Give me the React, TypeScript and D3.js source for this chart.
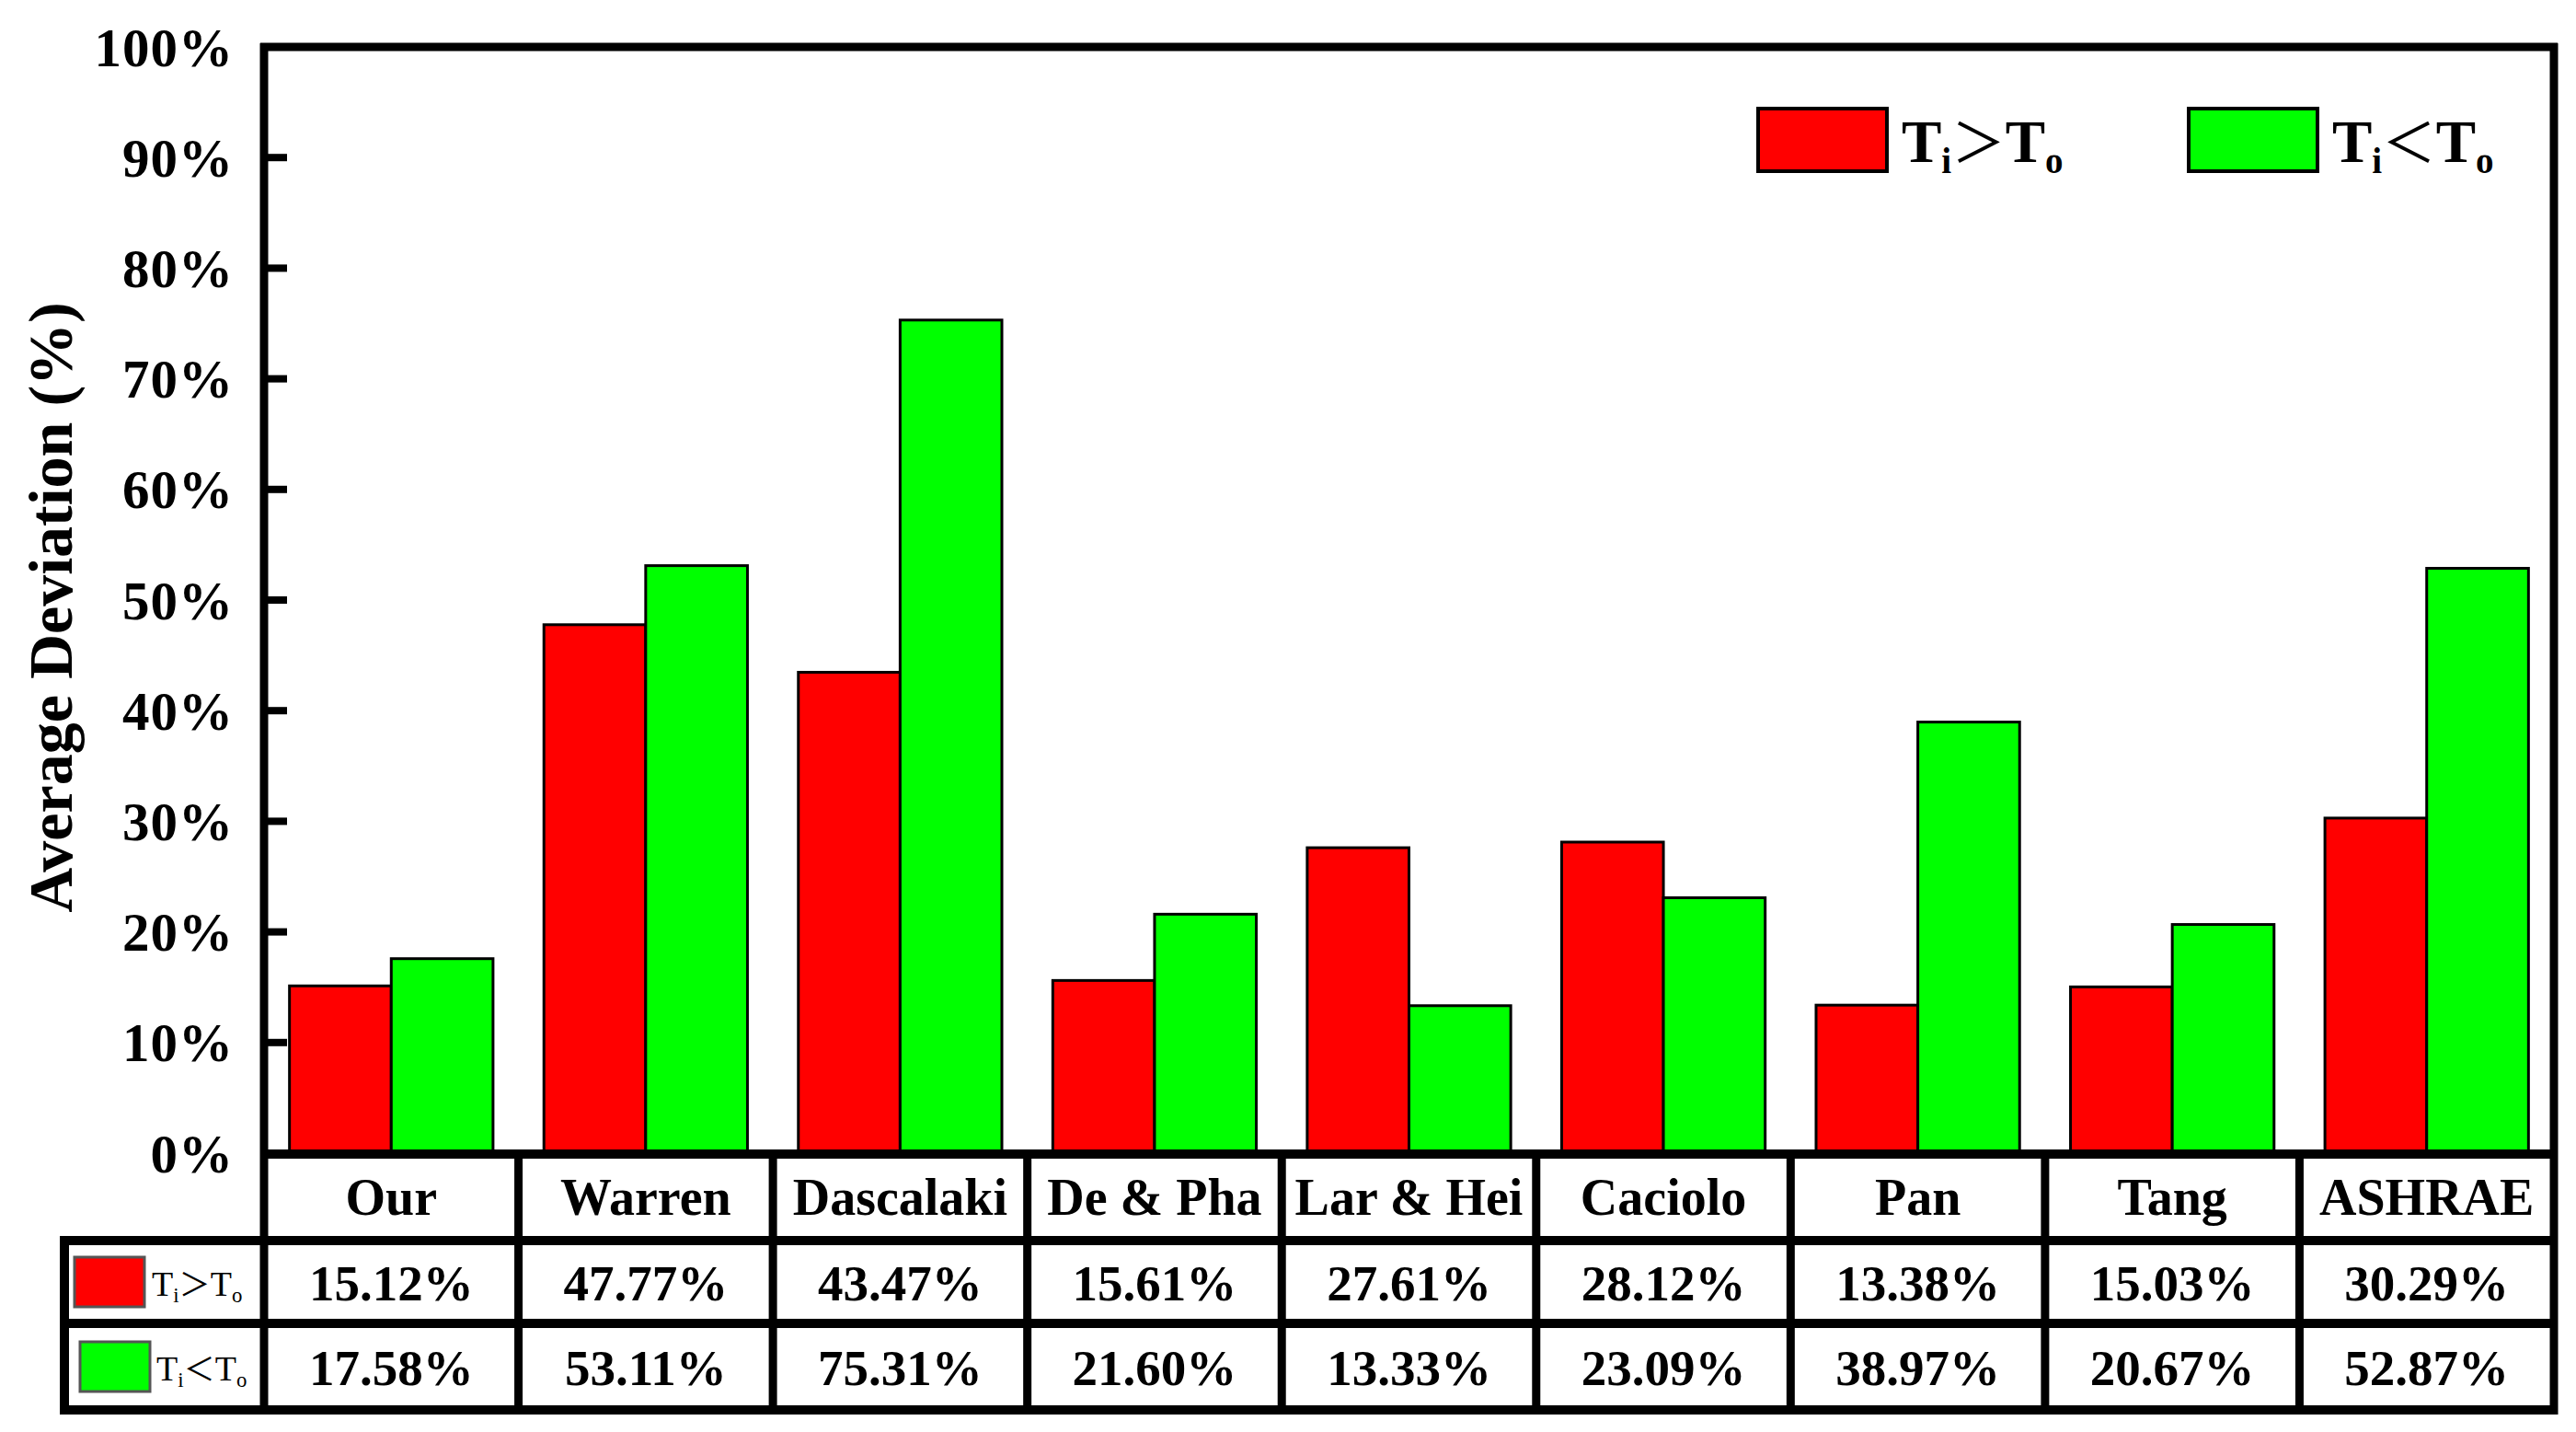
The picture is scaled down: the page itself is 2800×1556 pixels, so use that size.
import React from "react";
import * as d3 from "d3";

const categories = ["Our", "Warren", "Dascalaki", "De & Pha", "Lar & Hei", "Caciolo", "Pan", "Tang", "ASHRAE"];
const hotValues = [15.12, 47.77, 43.47, 15.61, 27.61, 28.12, 13.38, 15.03, 30.29];
const coldValues = [17.58, 53.11, 75.31, 21.6, 13.33, 23.09, 38.97, 20.67, 52.87];
const yTicks = [0, 10, 20, 30, 40, 50, 60, 70, 80, 90, 100];
const seriesKeys = ["hot", "cold"];
const seriesColors = ["#ff0000", "#00ff00"];
const seriesSymbols = ["＞", "＜"];

const W = 2800;
const H = 1556;
const plotLeft = 287;
const plotRight = 2776;
const plotTop = 51;
const plotBottom = 1253;
const tableLeft = 70;
const rowLines = [1348, 1438, 1532];
const FONT = "'Liberation Serif', 'Times New Roman', serif";

function LegendLabel({ x, y, size, sym, bold }: { x: number; y: number; size: number; sym: string; bold: boolean }) {
  return (
    <text x={x} y={y} fontFamily={FONT} fontSize={size} fontWeight={bold ? "bold" : "normal"} fill="#000">
      <tspan>T</tspan>
      <tspan fontSize={size * 0.6} dy={size * 0.18}>i</tspan>
      <tspan fontFamily="'Noto Sans CJK SC', sans-serif" fontWeight="normal" fontSize={size * 0.9} dy={-size * 0.18}>{sym}</tspan>
      <tspan>T</tspan>
      <tspan fontSize={size * 0.6} dy={size * 0.18}>o</tspan>
    </text>
  );
}

export default function App() {
  const x = d3.scaleBand<string>().domain(categories).range([plotLeft, plotRight]).paddingInner(0).paddingOuter(0);
  const bw = x.bandwidth();
  const xs = d3.scaleBand<string>().domain(seriesKeys).range([bw * 0.1, bw * 0.9]).padding(0);
  const y = d3.scaleLinear().domain([0, 100]).range([plotBottom, plotTop]);
  const series = [hotValues, coldValues];
  const rowCenters = [1300, 1394, 1486];

  return (
    <svg width={W} height={H} style={{ position: "absolute", left: 0, top: 0, display: "block", background: "#fff" }}>
      <rect x={0} y={0} width={W} height={H} fill="#fff" />
      {/* bars */}
      {series.map((vals, si) =>
        vals.map((v, i) => (
          <rect
            key={`b${si}-${i}`}
            x={(x(categories[i]) as number) + (xs(seriesKeys[si]) as number)}
            y={y(v)}
            width={xs.bandwidth()}
            height={plotBottom - y(v)}
            fill={seriesColors[si]}
            stroke="#000"
            strokeWidth={3}
          />
        ))
      )}
      {/* y ticks */}
      {yTicks.map((t) => (
        <g key={`t${t}`}>
          {t > 0 && t < 100 && <line x1={plotLeft} x2={plotLeft + 25} y1={y(t)} y2={y(t)} stroke="#000" strokeWidth={8} />}
          <text x={254} y={y(t)} dy="0.35em" textAnchor="end" fontFamily={FONT} fontWeight="bold" fontSize={59} letterSpacing={1} fill="#000">
            {`${t}%`}
          </text>
        </g>
      ))}
      {/* y label */}
      <text
        transform={`translate(54,${(plotTop + plotBottom) / 2 + 8}) rotate(-90)`}
        textAnchor="middle"
        dy="0.35em"
        fontFamily={FONT}
        fontWeight="bold"
        fontSize={68}
        fill="#000"
      >
        Average Deviation (%)
      </text>
      {/* legend */}
      {seriesKeys.map((k, si) => {
        const lx = si === 0 ? 1911 : 2379;
        return (
          <g key={`lg${k}`}>
            <rect x={lx} y={118} width={140} height={68} fill={seriesColors[si]} stroke="#000" strokeWidth={4} />
            <LegendLabel x={lx + 156} y={176} size={65} sym={seriesSymbols[si]} bold={true} />
          </g>
        );
      })}
      {/* table text */}
      {categories.map((c, i) => (
        <text
          key={`h${i}`}
          x={(x(c) as number) + bw / 2}
          y={rowCenters[0]}
          dy="0.35em"
          textAnchor="middle"
          fontFamily={FONT}
          fontWeight="bold"
          fontSize={56}
          fill="#000"
        >
          {c}
        </text>
      ))}
      {series.map((vals, si) =>
        vals.map((v, i) => (
          <text
            key={`v${si}-${i}`}
            x={(x(categories[i]) as number) + bw / 2}
            y={rowCenters[si + 1]}
            dy="0.35em"
            textAnchor="middle"
            fontFamily={FONT}
            fontWeight="bold"
            fontSize={55}
            fill="#000"
          >
            {`${v.toFixed(2)}%`}
          </text>
        ))
      )}
      {/* table row legend */}
      {seriesKeys.map((k, si) => (
        <g key={`tl${k}`}>
          <rect
            x={si === 0 ? 81 : 87}
            y={rowCenters[si + 1] - 28}
            width={76}
            height={54}
            fill={seriesColors[si]}
            stroke="#555"
            strokeWidth={3}
          />
          <LegendLabel x={si === 0 ? 165 : 170} y={rowCenters[si + 1] + 14} size={38} sym={seriesSymbols[si]} bold={false} />
        </g>
      ))}
      {/* table grid */}
      {categories.slice(1).map((c) => (
        <line key={`vl${c}`} x1={x(c) as number} x2={x(c) as number} y1={plotBottom} y2={rowLines[2]} stroke="#000" strokeWidth={9} />
      ))}
      <line x1={plotLeft} x2={plotRight + 4} y1={plotBottom + 1} y2={plotBottom + 1} stroke="#000" strokeWidth={10} />
      {rowLines.map((ry, ri) => (
        <line key={`rl${ri}`} x1={tableLeft - 5} x2={plotRight + 4} y1={ry} y2={ry} stroke="#000" strokeWidth={10} />
      ))}
      <line x1={tableLeft} x2={tableLeft} y1={rowLines[0] - 5} y2={rowLines[2] + 5} stroke="#000" strokeWidth={10} />
      {/* frame */}
      <line x1={plotLeft} x2={plotLeft} y1={plotTop - 4} y2={rowLines[2] + 5} stroke="#000" strokeWidth={9} />
      <line x1={plotLeft - 4} x2={plotRight + 4} y1={plotTop} y2={plotTop} stroke="#000" strokeWidth={9} />
      <line x1={plotRight} x2={plotRight} y1={plotTop - 4} y2={rowLines[2] + 5} stroke="#000" strokeWidth={9} />
    </svg>
  );
}
